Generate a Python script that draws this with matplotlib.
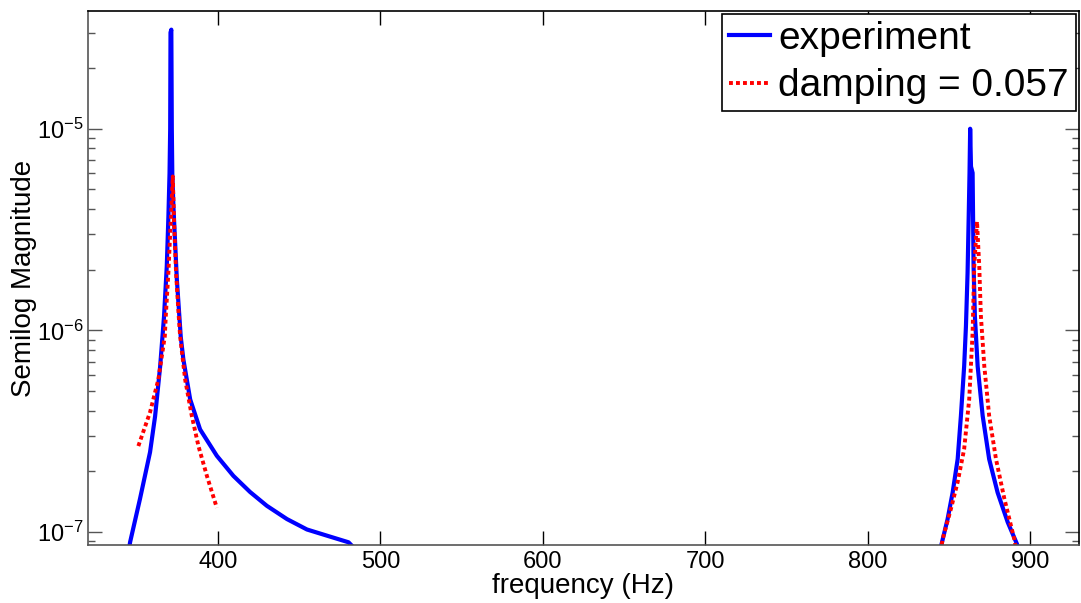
"""
Semilog magnitude spectrum: measured response vs. damped fit.
"""

import numpy as np
import matplotlib
matplotlib.use('Agg')
import matplotlib.pyplot as plt
from matplotlib.ticker import LogLocator, FixedLocator

plt.rcParams['font.family'] = ['Liberation Sans', 'DejaVu Sans']
plt.rcParams['axes.unicode_minus'] = False

exp_freq = [344.5, 345.9, 352.0, 358.2, 361.3, 364.4, 366.8, 368.5, 369.5, 370.2,
            370.6, 370.8, 371.3, 371.6, 371.9, 372.6, 374.7, 377.1, 378.7, 382.9,
            389.0, 399.3, 409.5, 419.8, 430.1, 442.5, 454.8, 467.1, 480.4, 486.0,
            np.nan,
            844.0, 845.5, 849.2, 852.3, 855.4, 857.4, 859.4, 860.5, 861.5, 862.2,
            862.7, 863.1, 863.6, 864.6, 865.2, 866.0, 867.7, 870.8, 874.8, 880.0,
            886.2, 891.9, 893.0]
exp_mag = [7.5e-8, 8.9e-8, 1.46e-7, 2.49e-7, 3.75e-7, 6.6e-7, 1.17e-6, 2.08e-6, 3.66e-6, 6.0e-6,
           1.0e-5, 3.0e-5, 3.1e-5, 1.0e-5, 6.0e-6, 4.1e-6, 1.79e-6, 9.3e-7, 7.2e-7, 4.55e-7,
           3.23e-7, 2.39e-7, 1.9e-7, 1.58e-7, 1.35e-7, 1.16e-7, 1.03e-7, 9.6e-8, 8.9e-8, 8.0e-8,
           np.nan,
           8.0e-8, 8.73e-8, 1.16e-7, 1.57e-7, 2.30e-7, 3.77e-7, 6.65e-7, 1.05e-6, 1.93e-6, 3.68e-6,
           6.0e-6, 1.0e-5, 6.5e-6, 6.04e-6, 2.08e-6, 1.18e-6, 6.65e-7, 3.77e-7, 2.30e-7, 1.57e-7,
           1.12e-7, 8.73e-8, 8.0e-8]

# fitted response, damping = 0.057
fit_freq = [351.0, 358.2, 363.3, 367.3, 367.9, 369.5, 371.0, 372.2, 373.0, 374.2,
            375.7, 376.7, 379.8, 383.9, 388.0, 393.2, 399.3,
            np.nan,
            845.0, 846.1, 851.2, 855.4, 859.4, 862.5, 864.6, 865.6, 867.3, 868.7,
            869.7, 871.8, 874.8, 879.0, 884.1, 890.3, 891.5]
fit_mag = [2.67e-7, 3.93e-7, 5.71e-7, 9.37e-7, 1.18e-6, 1.94e-6, 3.55e-6, 5.8e-6, 3.43e-6, 1.94e-6,
           1.23e-6, 9.37e-7, 5.71e-7, 3.77e-7, 2.67e-7, 1.90e-7, 1.32e-7,
           np.nan,
           8.0e-8, 9.2e-8, 1.30e-7, 1.77e-7, 2.58e-7, 4.55e-7, 9.77e-7, 2.08e-6, 3.47e-6, 2.08e-6,
           1.18e-6, 6.65e-7, 3.77e-7, 2.30e-7, 1.47e-7, 9.2e-8, 8.0e-8]

xticks = [400, 500, 600, 700, 800, 900]

fig = plt.figure(figsize=(10.81, 6.03), dpi=100)
ax = fig.add_axes([0.0814, 0.0957, 0.9166, 0.8866])

ax.semilogy(exp_freq, exp_mag, color='#0000ff', lw=3.0, label='experiment')
ax.semilogy(fit_freq, fit_mag, color='#ff0000', lw=2.8,
            linestyle=(0, (1.0, 0.8)), label='damping = 0.057')

ax.set_xlim(320, 930)
ax.set_ylim(8.6e-8, 3.85e-5)
ax.xaxis.set_major_locator(FixedLocator(xticks))
ax.yaxis.set_major_locator(LogLocator(base=10))
ax.yaxis.set_minor_locator(LogLocator(base=10, subs=np.arange(2, 10)))

ax.tick_params(axis='both', which='both', direction='in', top=True, right=True)
ax.tick_params(axis='x', which='major', length=10, width=1, labelsize=17, pad=4)
ax.tick_params(axis='y', which='major', length=10, width=1, labelsize=17, pad=3,
               color='#555555')
ax.tick_params(axis='y', which='minor', length=5, width=1, color='#555555')
ax.tick_params(axis='x', which='minor', bottom=False, top=False)

for side in ['left', 'bottom']:
    ax.spines[side].set_color('#555555')
for side in ['top', 'right']:
    ax.spines[side].set_color('black')
for s in ax.spines.values():
    s.set_linewidth(1.2)

ax.set_xlabel('frequency (Hz)', fontsize=20, labelpad=0)
ax.set_ylabel('Semilog Magnitude', fontsize=20, labelpad=0)

leg = ax.legend(loc='upper right', fontsize=28, frameon=True, fancybox=False,
                edgecolor='black', framealpha=1, borderaxespad=0.08,
                handlelength=1.05, handletextpad=0.2, borderpad=0.18,
                labelspacing=0.3)
leg.get_frame().set_linewidth(1.2)

fig.savefig('out.png', dpi=100)
